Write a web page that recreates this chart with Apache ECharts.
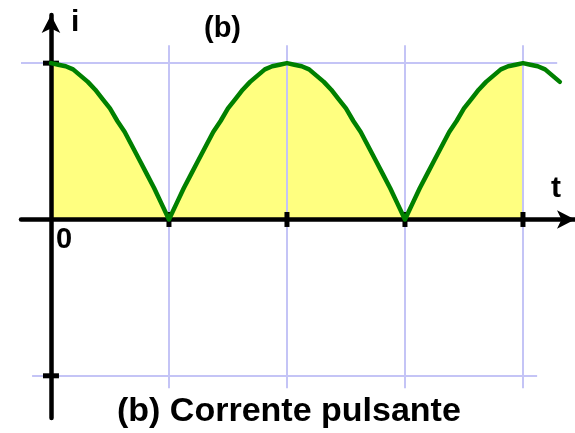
<!DOCTYPE html>
<html>
<head>
<meta charset="utf-8">
<script src="https://cdn.jsdelivr.net/npm/echarts@6/dist/echarts.min.js"></script>
<style>
  html, body { margin: 0; padding: 0; background: #fff; }
  #chart { width: 575px; height: 433px; }
</style>
</head>
<body>
<div id="chart"></div>
<script>
// Full-wave rectified current: one sample every 1/16 of a half period
const sampleStep = 1 / 16;
const currentValues = [
  1, 0.99, 0.98, 0.96, 0.92, 0.88, 0.83, 0.77, 0.71, 0.63, 0.56, 0.47, 0.38, 0.29, 0.2, 0.1, 0,
  0.1, 0.2, 0.29, 0.38, 0.47, 0.56, 0.63, 0.71, 0.77, 0.83, 0.88, 0.92, 0.96, 0.98, 0.99, 1,
  0.99, 0.98, 0.96, 0.92, 0.88, 0.83, 0.77, 0.71, 0.63, 0.56, 0.47, 0.38, 0.29, 0.2, 0.1, 0,
  0.1, 0.2, 0.29, 0.38, 0.47, 0.56, 0.63, 0.71, 0.77, 0.83, 0.88, 0.92, 0.96, 0.98, 0.99, 1,
  0.99, 0.98, 0.96, 0.92, 0.88
];
// Shaded part of the wave ends here (in half periods)
const fillEnd = 4;

// Tick / grid positions
const tTicks = [1, 2, 3, 4];
const iTicks = [1, -1];

// Texts
const yName = 'i';
const xName = 't';
const originLabel = '0';
const topTag = '(b)';
const caption = '(b) Corrente pulsante';

const curve = currentValues.map((v, k) => [k * sampleStep, v]);
const filled = curve.filter(p => p[0] <= fillEnd + 1e-9);

const GRID_COLOR = '#c4c4f6';
const gridLines = [
  ...tTicks.map(t => [{ coord: [t, 1.115] }, { coord: [t, -1.08] }]),
  [{ coord: [-0.254, 1] }, { coord: [4.29, 1] }],
  [{ coord: [-0.16, -1] }, { coord: [4.12, -1] }]
];

const chart = echarts.init(document.getElementById('chart'), null, { renderer: 'canvas' });
const font = '"Liberation Sans", Arial, sans-serif';

chart.setOption({
  animation: false,
  backgroundColor: '#ffffff',
  grid: { left: 21, right: 0, top: 15, bottom: 15, containLabel: false },
  xAxis: {
    type: 'value', min: -0.254, max: 4.441,
    z: 4,
    axisLine: {
      onZero: true,
      symbol: ['none', 'arrow'], symbolSize: [14, 18], symbolOffset: [0, 0],
      lineStyle: { color: '#000', width: 4.5 }
    },
    axisTick: { show: false }, axisLabel: { show: false }, splitLine: { show: false }
  },
  yAxis: {
    type: 'value', min: -1.27, max: 1.308,
    z: 4,
    axisLine: {
      onZero: true,
      symbol: ['none', 'arrow'], symbolSize: [14, 18], symbolOffset: [0, 0],
      lineStyle: { color: '#000', width: 4.5 }
    },
    axisTick: { show: false }, axisLabel: { show: false }, splitLine: { show: false }
  },
  series: [
    {
      name: 'fill', type: 'line', data: filled, z: 1,
      symbol: 'none', lineStyle: { width: 0 },
      areaStyle: { color: '#ffff80', opacity: 1, origin: 0 },
      silent: true
    },
    {
      name: 'grid', type: 'line', data: [], z: 2, silent: true,
      markLine: {
        silent: true, symbol: 'none', label: { show: false },
        lineStyle: { color: GRID_COLOR, width: 2, type: 'solid' },
        data: gridLines
      }
    },
    {
      name: 'tticks', type: 'scatter', z: 5, silent: true,
      symbol: 'rect', symbolSize: [5, 15],
      itemStyle: { color: '#000', opacity: 1 },
      data: tTicks.map(t => [t, 0])
    },
    {
      name: 'iticks', type: 'scatter', z: 5, silent: true,
      symbol: 'rect', symbolSize: [16, 5],
      itemStyle: { color: '#000', opacity: 1 },
      data: iTicks.map(v => [0, v])
    },
    {
      name: 'current', type: 'line', data: curve, z: 6,
      symbol: 'none', smooth: false,
      lineStyle: { color: '#008000', width: 4.5, join: 'round', cap: 'round' }
    }
  ],
  graphic: [
    { type: 'text', left: 71, top: 8, z: 10,
      style: { text: yName, font: 'bold 30px ' + font, fill: '#000' } },
    { type: 'text', left: 204, top: 14, z: 10,
      style: { text: topTag, font: 'bold 29px ' + font, fill: '#000' } },
    { type: 'text', left: 551, top: 174, z: 10,
      style: { text: xName, font: 'bold 30px ' + font, fill: '#000' } },
    { type: 'text', left: 56, top: 225, z: 10,
      style: { text: originLabel, font: 'bold 29px ' + font, fill: '#000' } },
    { type: 'text', left: 117, top: 395, z: 10,
      style: { text: caption, font: 'bold 34px ' + font, fill: '#000' } }
  ]
});
</script>
</body>
</html>
